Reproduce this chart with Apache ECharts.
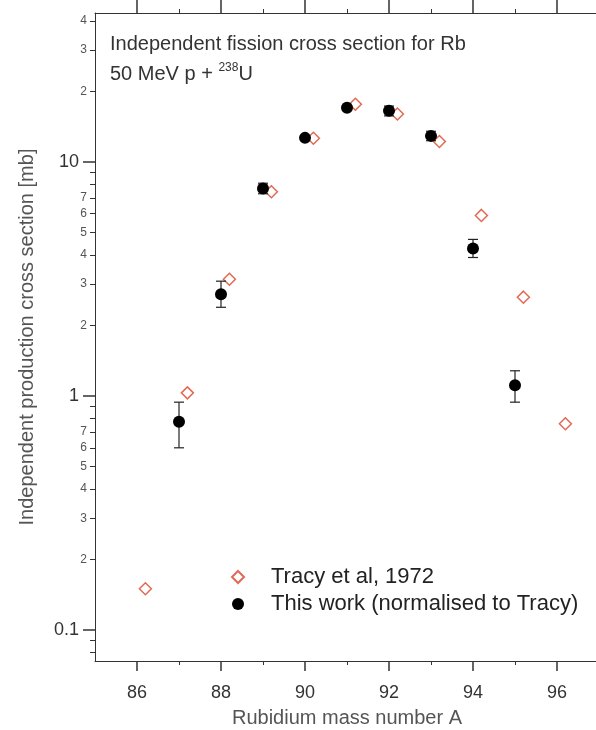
<!DOCTYPE html>
<html><head><meta charset="utf-8">
<script src="https://cdn.jsdelivr.net/npm/echarts@6/dist/echarts.min.js"></script>
<style>html,body{margin:0;padding:0;background:#fff}#c{width:596px;height:730px}</style>
</head><body><div id="c"></div>
<script>
// ---- data ----
const tracyMass = [86.2, 87.2, 88.2, 89.2, 90.2, 91.2, 92.2, 93.2, 94.2, 95.2, 96.2];
const tracyValues = [0.15, 1.03, 3.15, 7.45, 12.6, 17.6, 16.0, 12.2, 5.9, 2.64, 0.76];
const thisMass = [87, 88, 89, 90, 91, 92, 93, 94, 95];
const thisValues = [0.775, 2.72, 7.68, 12.65, 17.0, 16.5, 12.9, 4.26, 1.11];
const thisErrLow = [0.60, 2.39, 7.3, 12.65, 17.0, 15.7, 12.3, 3.90, 0.94];
const thisErrHigh = [0.94, 3.09, 8.1, 12.65, 17.0, 17.3, 13.5, 4.66, 1.28];
const xMajorTicks = [86, 88, 90, 92, 94, 96];
const xMinorTicks = [87, 89, 91, 93, 95];
const yMajorTicks = [0.1, 1, 10];
const yMinorTicks = [0.08, 0.09, 0.2, 0.3, 0.4, 0.5, 0.6, 0.7, 0.8, 0.9, 2, 3, 4, 5, 6, 7, 8, 9, 20, 30, 40];
const yMinorLabels = [0.2, 0.3, 0.4, 0.5, 0.6, 0.7, 2, 3, 4, 5, 6, 7, 20, 30, 40];
const legendNames = ['Tracy et al, 1972', 'This work (normalised to Tracy)'];
const titleLine1 = 'Independent fission cross section for Rb';
const titleLine2 = '50 MeV p + {sup|238}U';
const xName = 'Rubidium mass number A';
const yName = 'Independent production cross section [mb]';

const FONT = '"Liberation Sans", Arial, Helvetica, sans-serif';
const AX = '#333';
const X_MIN = 85, X_MAX = 97, Y_MIN = 0.0737, Y_MAX = 43.2;

function lead(v) {
  const e = Math.floor(Math.log10(v) + 1e-9);
  return String(Math.round(v / Math.pow(10, e)));
}

const chart = echarts.init(document.getElementById('c'), null, {renderer: 'canvas'});
const baseX = {type: 'value', min: X_MIN, max: X_MAX, splitLine: {show: false}};
const baseY = {type: 'log', logBase: 10, min: Y_MIN, max: Y_MAX, splitLine: {show: false}};

chart.setOption({
  animation: false,
  backgroundColor: '#fff',
  grid: {left: 95, top: 13, width: 504, height: 648, containLabel: false, outerBoundsMode: 'none'},
  graphic: [
    {type: 'text', left: 110, top: 34, style: {text: titleLine1, fontSize: 20, fontFamily: FONT, fill: '#333'}},
    {type: 'text', left: 110, top: 62, style: {text: titleLine2, fontSize: 20, fontFamily: FONT, fill: '#333', lineHeight: 25,
      rich: {sup: {fontSize: 12, fontFamily: FONT, fill: '#333', verticalAlign: 'top', lineHeight: 25}}}}
  ],
  legend: {
    data: legendNames, orient: 'vertical', left: 226, top: 561, itemWidth: 12, itemHeight: 12, itemGap: 5,
    textStyle: {fontSize: 22, fontFamily: FONT, color: '#222', padding: [0, 0, 0, 22]}
  },
  xAxis: [
    Object.assign({}, baseX, {position: 'bottom', name: xName, nameLocation: 'middle', nameGap: 47,
      nameTextStyle: {fontSize: 20, fontFamily: FONT, color: '#555'},
      axisLine: {show: true, onZero: false, lineStyle: {color: AX}},
      axisTick: {show: true, customValues: xMajorTicks, length: 10, lineStyle: {color: AX, width: 1.5}},
      axisLabel: {show: true, customValues: xMajorTicks, margin: 23, fontSize: 18, fontFamily: FONT, color: '#333'}}),
    Object.assign({}, baseX, {position: 'bottom', axisLine: {show: false, onZero: false},
      axisTick: {show: true, customValues: xMinorTicks, length: 4, lineStyle: {color: AX}},
      axisLabel: {show: false}}),
    Object.assign({}, baseX, {position: 'top', axisLine: {show: true, onZero: false, lineStyle: {color: AX}},
      axisTick: {show: true, customValues: xMajorTicks, length: 13, lineStyle: {color: AX, width: 1.5}},
      axisLabel: {show: false}}),
    Object.assign({}, baseX, {position: 'top', axisLine: {show: false, onZero: false},
      axisTick: {show: true, customValues: xMinorTicks, length: 4, lineStyle: {color: AX}},
      axisLabel: {show: false}})
  ],
  yAxis: [
    Object.assign({}, baseY, {position: 'left', name: yName, nameLocation: 'middle', nameGap: 58, nameRotate: 90,
      nameTextStyle: {fontSize: 20, fontFamily: FONT, color: '#555'},
      axisLine: {show: true, onZero: false, lineStyle: {color: AX}},
      axisTick: {show: true, customValues: yMajorTicks, length: 12, lineStyle: {color: AX, width: 1.5}},
      axisLabel: {show: true, customValues: yMajorTicks, margin: 16, fontSize: 18, fontFamily: FONT, color: '#333',
        formatter: v => (v < 0.5 ? '0.1' : String(Math.round(v)))}}),
    Object.assign({}, baseY, {position: 'left', axisLine: {show: false, onZero: false},
      axisTick: {show: true, customValues: yMinorTicks, length: 5, lineStyle: {color: AX}},
      axisLabel: {show: true, customValues: yMinorLabels, margin: 8, fontSize: 12, fontFamily: FONT, color: '#555',
        formatter: v => lead(v)}})
  ],
  series: [
    {
      name: legendNames[0], type: 'scatter', xAxisIndex: 0, yAxisIndex: 0,
      symbol: 'diamond', symbolSize: 12,
      itemStyle: {color: '#fff', borderColor: '#e26a55', borderWidth: 1.5, opacity: 1},
      data: tracyMass.map((m, i) => [m, tracyValues[i]]), z: 2
    },
    {
      type: 'custom', xAxisIndex: 0, yAxisIndex: 0, z: 3,
      data: thisMass.map((m, i) => [m, thisErrLow[i], thisErrHigh[i]]),
      encode: {x: 0, y: [1, 2]},
      renderItem: function (params, api) {
        const x = api.value(0), lo = api.value(1), hi = api.value(2);
        if (lo === hi) return null;
        const a = api.coord([x, lo]), b = api.coord([x, hi]);
        const st = {stroke: '#222', lineWidth: 1.2};
        return {type: 'group', children: [
          {type: 'line', shape: {x1: a[0], y1: a[1], x2: b[0], y2: b[1]}, style: st},
          {type: 'line', shape: {x1: a[0] - 5, y1: a[1], x2: a[0] + 5, y2: a[1]}, style: st},
          {type: 'line', shape: {x1: b[0] - 5, y1: b[1], x2: b[0] + 5, y2: b[1]}, style: st}
        ]};
      }
    },
    {
      name: legendNames[1], type: 'scatter', xAxisIndex: 0, yAxisIndex: 0,
      symbol: 'circle', symbolSize: 12,
      itemStyle: {color: '#000', opacity: 1},
      data: thisMass.map((m, i) => [m, thisValues[i]]), z: 4
    }
  ]
});
</script>
</body></html>
